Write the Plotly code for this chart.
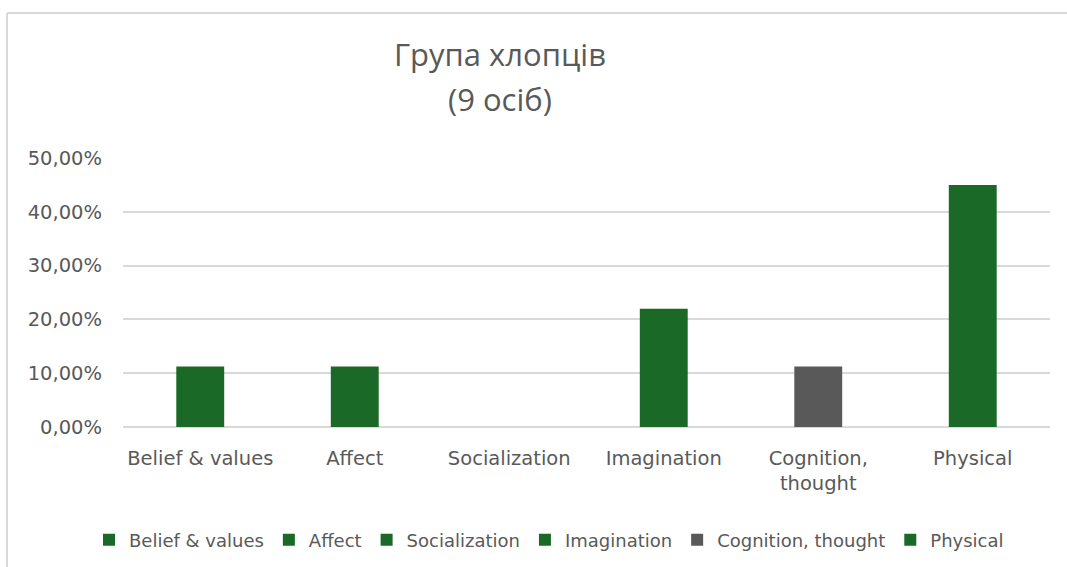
import plotly.graph_objects as go

categories = ["Belief & values", "Affect", "Socialization", "Imagination", "Cognition, thought", "Physical"]
tick_labels = ["Belief & values", "Affect", "Socialization", "Imagination", "Cognition,<br>thought", "Physical"]
values = [0.1125, 0.1125, 0.0, 0.22, 0.1125, 0.45]
colors = ["#1b6926", "#1b6926", "#1b6926", "#1b6926", "#595959", "#1b6926"]
title_lines = ["Група хлопців", "(9 осіб)"]

W, H = 1067, 567
L, T = 123, 158
R = W - 1050
B = H - 427
pw, ph = W - L - R, H - T - B

fig = go.Figure()
for cat, lab, val, col in zip(categories, tick_labels, values, colors):
    fig.add_trace(go.Bar(
        x=[lab], y=[val], name=cat,
        marker=dict(color=col, line=dict(width=0)),
        width=0.31,
    ))

def px_x(p):
    return (p - L) / pw

def px_y(p):
    return (H - B - p) / ph

border = "#d9d9d9"
fig.add_shape(type="line", xref="paper", yref="paper",
              x0=px_x(7), x1=px_x(1067), y0=px_y(13), y1=px_y(13),
              line=dict(color=border, width=2))
fig.add_shape(type="line", xref="paper", yref="paper",
              x0=px_x(7), x1=px_x(7), y0=px_y(13), y1=px_y(567),
              line=dict(color=border, width=2))

FONT = "DejaVu Sans"
FS = 19.5
TFONT = dict(family="Open Sans", size=31, color="#595959")

fig.add_annotation(
    text=title_lines[1], xref="paper", yref="paper",
    x=px_x(500), y=px_y(99), xanchor="center", yanchor="middle",
    showarrow=False, font=TFONT,
)

fig.update_layout(
    width=W, height=H,
    margin=dict(l=L, r=R, t=T, b=B),
    paper_bgcolor="white", plot_bgcolor="white",
    separators=", ",
    barmode="overlay",
    showlegend=True,
    hovermode=False,
    font=dict(family=FONT, color="#595959", size=FS),
    title=dict(
        text=title_lines[0],
        xref="container", x=500 / W, xanchor="center",
        yref="container", y=1 - 55 / H, yanchor="middle",
        font=TFONT,
    ),
    xaxis=dict(
        categoryorder="array", categoryarray=tick_labels,
        showgrid=False, showline=False, ticks="",
        tickfont=dict(family=FONT, size=FS, color="#595959"),
        ticklabelstandoff=17,
    ),
    yaxis=dict(
        range=[0, 0.5], dtick=0.1, tickformat=".2%",
        showgrid=True, gridcolor="#d9d9d9", gridwidth=1.5,
        zeroline=True, zerolinecolor="#d9d9d9", zerolinewidth=1.5,
        showline=False, ticks="",
        tickfont=dict(family=FONT, size=FS, color="#595959"),
        ticklabelstandoff=20,
    ),
    legend=dict(
        orientation="h", xref="container", x=549 / W, xanchor="center",
        yref="container", y=1 - 540 / H, yanchor="middle",
        font=dict(family=FONT, size=18, color="#595959"),
        itemsizing="constant", itemwidth=30, tracegroupgap=0,
    ),
)

fig.write_html(
    "out.html",
    config={"displayModeBar": False},
    post_script="document.body.style.margin='0';document.body.style.overflow='hidden';",
)
